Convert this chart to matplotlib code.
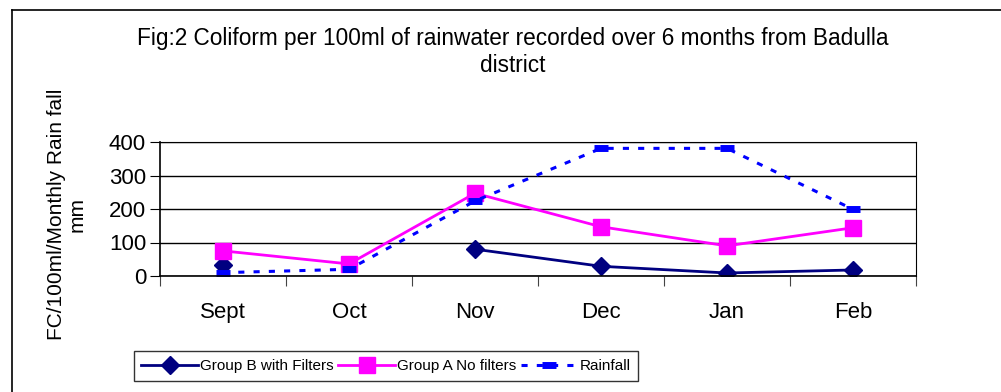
import matplotlib.pyplot as plt
import numpy as np
from matplotlib.lines import Line2D

plt.rcParams["font.family"] = ["Liberation Sans", "DejaVu Sans"]

months = ["Sept", "Oct", "Nov", "Dec", "Jan", "Feb"]
group_b = [32, np.nan, 80, 29, 9, 18]
group_a = [75, 36, 247, 147, 90, 144]
rainfall = [10, 20, 224, 381, 381, 199]
y_ticks = [0, 100, 200, 300, 400]

W, H = 1001, 392
fig = plt.figure(figsize=(W / 100, H / 100), dpi=100)

# outer frame (only top and left are visible in the crop)
fig.add_artist(Line2D([12 / W, 12 / W], [0, 1 - 10 / H], color="black", lw=1.2))
fig.add_artist(Line2D([12 / W, 1], [1 - 10 / H, 1 - 10 / H], color="black", lw=1.2))

ax = fig.add_axes([160 / W, 1 - 276 / H, (916 - 160) / W, (276 - 142) / H])
x = np.arange(len(months))

ax.plot(x, group_b, color="#000080", lw=2, marker="D", ms=9.5, label="Group B with Filters")
ax.plot(x, group_a, color="#ff00ff", lw=2, marker="s", ms=11, label="Group A No filters")
ax.plot(x, rainfall, color="#0000ff", lw=2.2, ls=(0, (2, 3)), marker="_", ms=10, mew=5,
        label="Rainfall")

ax.set_xlim(-0.5, len(months) - 0.5)
ax.set_ylim(0, 400)
ax.set_yticks(y_ticks)
ax.set_yticklabels([str(v) for v in y_ticks], fontsize=16)
ax.yaxis.grid(True, color="black", lw=1)
ax.set_axisbelow(True)

# category labels centred, tick marks at category boundaries
ax.set_xticks(np.arange(len(months) + 1) - 0.5)
ax.set_xticklabels([])
ax.set_xticks(x, minor=True)
ax.set_xticklabels(months, minor=True, fontsize=16)
ax.tick_params(axis="x", which="minor", length=0, pad=19)
ax.tick_params(axis="x", which="major", length=7, direction="out", color="#444444")
ax.tick_params(axis="y", length=7, direction="out", pad=3)

ax.spines["left"].set_linewidth(1.2)
ax.spines["bottom"].set_linewidth(1.2)

ax.set_ylabel("FC/100ml/Monthly Rain fall\nmm", fontsize=15, linespacing=1.1)
ax.yaxis.set_label_coords(-0.097, 0.46)

fig.text(513 / W, 1 - 38 / H, "Fig:2 Coliform per 100ml of rainwater recorded over 6 months from Badulla",
         ha="center", va="center", fontsize=16.3)
fig.text(513 / W, 1 - 66 / H, "district", ha="center", va="center", fontsize=16.3)

leg = fig.legend(loc="center", bbox_to_anchor=(386 / W, 1 - 366 / H), ncol=3, frameon=True,
                 fancybox=False, edgecolor="black", fontsize=11, handlelength=3.7,
                 columnspacing=0.3, handletextpad=0.15, borderpad=0.5, borderaxespad=0)
leg.get_frame().set_linewidth(1)

fig.savefig("out.png", dpi=100)
